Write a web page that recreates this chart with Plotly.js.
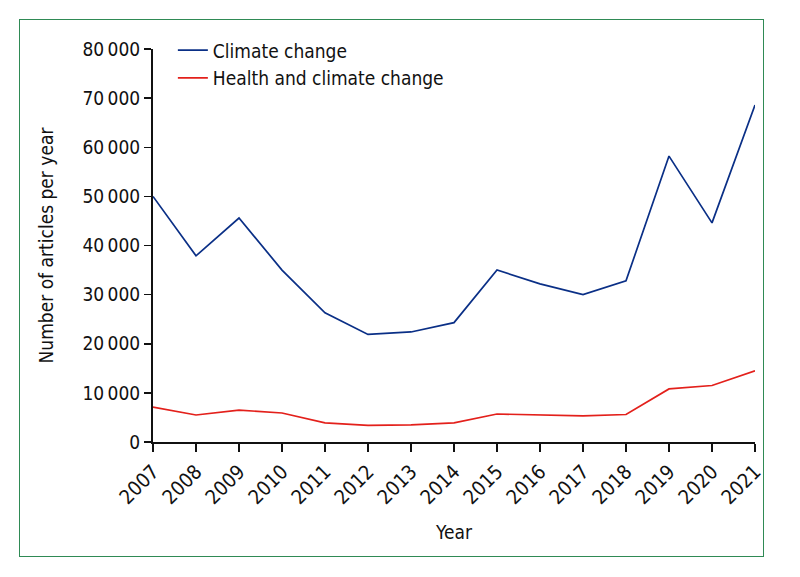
<!DOCTYPE html>
<html>
<head>
<meta charset="utf-8">
<script src="https://cdn.plot.ly/plotly-3.0.1.min.js"></script>
<style>
html,body{margin:0;padding:0;background:#fff;}
#wrap{position:relative;width:800px;height:577px;}
#chart{position:absolute;left:0;top:0;width:800px;height:577px;}
#frame{position:absolute;left:19px;top:19px;width:743px;height:536px;border:1.5px solid #2f8a55;pointer-events:none;}
</style>
</head>
<body>
<div id="wrap"><div id="chart"></div><div id="frame"></div></div>
<script>
var years = [2007,2008,2009,2010,2011,2012,2013,2014,2015,2016,2017,2018,2019,2020,2021];
var climateChange = [50000,37900,45600,35000,26300,21900,22400,24300,35000,32200,30000,32800,58200,44600,68600];
var healthClimate = [7100,5500,6500,5900,3900,3400,3500,3900,5700,5500,5300,5600,10800,11500,14500];
var yTickVals = [0,10000,20000,30000,40000,50000,60000,70000,80000];
var yTickText = ["0","10\u2009000","20\u2009000","30\u2009000","40\u2009000","50\u2009000","60\u2009000","70\u2009000","80\u2009000"];

var fontFam = '"DejaVu Sans Condensed","Open Sans",sans-serif';

var traces = [
  {x: years, y: climateChange, type: 'scatter', mode: 'lines', name: 'Climate change',
   line: {color: '#0a2f86', width: 1.7}},
  {x: years, y: healthClimate, type: 'scatter', mode: 'lines', name: 'Health and climate change',
   line: {color: '#e3201b', width: 1.7}}
];

var layout = {
  width: 800, height: 577,
  margin: {l: 153, r: 45, t: 49, b: 135},
  paper_bgcolor: '#fff', plot_bgcolor: '#fff',
  font: {family: fontFam, size: 18, color: '#111'},
  showlegend: true,
  legend: {x: 0.033, y: 1.045, xanchor: 'left', yanchor: 'top', bgcolor: 'rgba(0,0,0,0)',
           font: {family: fontFam, size: 19, color: '#111'}, tracegroupgap: 0},
  xaxis: {
    range: [2007, 2021], tickvals: years, ticktext: years.map(String),
    tickangle: -45, ticks: 'outside', ticklen: 8, tickwidth: 1.5, tickcolor: '#111',
    showline: true, linecolor: '#111', linewidth: 2, showgrid: false, zeroline: false,
    tickfont: {family: fontFam, size: 20, color: '#111'},
    title: {text: 'Year', font: {family: fontFam, size: 19, color: '#111'}, standoff: 18}
  },
  yaxis: {
    range: [0, 80000], tickvals: yTickVals, ticktext: yTickText,
    ticks: 'outside', ticklen: 7, tickwidth: 1.5, tickcolor: '#111',
    showline: true, linecolor: '#111', linewidth: 2, showgrid: false, zeroline: false,
    tickfont: {family: fontFam, size: 19, color: '#111'},
    title: {text: 'Number of articles per year', font: {family: fontFam, size: 19, color: '#111'}, standoff: 24}
  }
};

Plotly.newPlot('chart', traces, layout, {displayModeBar: false, staticPlot: true});
</script>
</body>
</html>
